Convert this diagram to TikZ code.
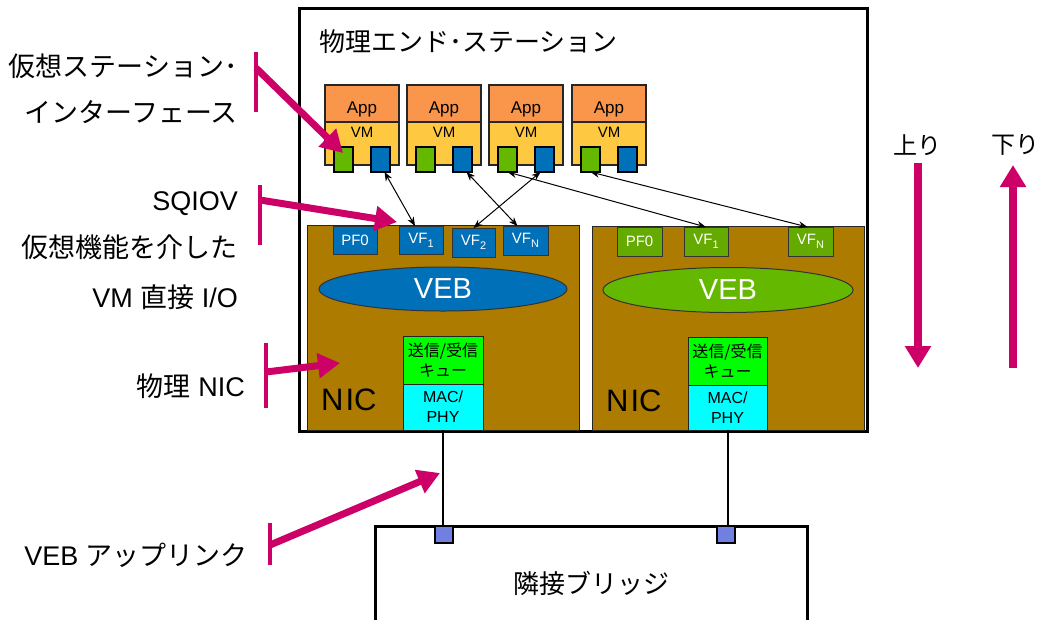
\documentclass[tikz,border=0pt]{standalone}
\usepackage{fontspec}
\setmainfont{Liberation Sans}
\newfontfamily\jp{Noto Sans CJK JP}
\usetikzlibrary{arrows.meta,shapes.geometric}
\definecolor{apporange}{RGB}{250,150,75}
\definecolor{vmyellow}{RGB}{255,200,65}
\definecolor{portgreen}{RGB}{100,185,0}
\definecolor{portblue}{RGB}{0,112,184}
\definecolor{vfgreen}{RGB}{100,170,0}
\definecolor{nicbrown}{RGB}{173,123,0}
\definecolor{qgreen}{RGB}{0,255,0}
\definecolor{maccyan}{RGB}{0,255,255}
\definecolor{callout}{RGB}{204,0,102}
\definecolor{bport}{RGB}{112,128,224}
\begin{document}
\begin{tikzpicture}[x=1pt,y=-1pt,
  box/.style={draw=black!85,line width=0.8pt,inner sep=0pt,outer sep=0pt,anchor=north west},
  vmbox/.style={box,line width=1.2pt},
  portbox/.style={box,line width=1pt,draw=black!80,text=white,font=\fontsize{15}{15}\selectfont},
  lbl/.style={anchor=east,inner sep=0pt,font=\fontsize{27}{27}\selectfont},
  link/.style={line width=1pt,{Stealth[length=9pt,width=7pt]}-{Stealth[length=9pt,width=7pt]}},
  callbar/.style={draw=callout,line width=4pt},
  callarrow/.style={draw=callout,line width=7pt,-{Triangle[length=22pt,width=24pt]}},
  updown/.style={draw=callout,line width=8pt,-{Triangle[length=22pt,width=25pt]}},
  veb/.style={ellipse,draw=black!80,line width=1pt,inner sep=0pt,text=white,font=\fontsize{29}{29}\selectfont},
  queue/.style={box,fill=qgreen,minimum width=80pt,minimum height=48pt,align=center,font=\jp\fontsize{16}{20}\selectfont},
  macbox/.style={box,fill=maccyan,minimum width=80pt,minimum height=46pt,align=center,font=\fontsize{16}{20}\selectfont},
  niclbl/.style={anchor=base west,inner sep=0pt,font=\fontsize{31}{31}\selectfont},
  sub/.style={}
]
\useasboundingbox (0,0) rectangle (1040,619);

% physical end station
\node[box,line width=3pt,draw=black,fill=white,minimum width=568pt,minimum height=423pt] (station) at (299,8) {};
\node[anchor=west,inner sep=0pt,font=\jp\fontsize{26}{26}\selectfont] (stationlabel) at (319,42) {物理エンド･ステーション};

% NICs
\node[box,fill=nicbrown,minimum width=272pt,minimum height=205pt] (nic1) at (307,225) {};
\node[box,fill=nicbrown,minimum width=272pt,minimum height=204pt] (nic2) at (592,226) {};
\node[niclbl] (nic1label) at (321,410) {N\hspace{2pt}IC};
\node[niclbl] (nic2label) at (606,411) {N\hspace{2pt}IC};

% VMs
\foreach \i/\x in {1/325,2/407,3/489,4/572}{
  \node[vmbox,fill=vmyellow,minimum width=74pt,minimum height=43pt] (vm\i) at (\x,122) {};
  \node[vmbox,fill=apporange,minimum width=74pt,minimum height=37pt] (app\i) at (\x,85) {};
  \node[anchor=base,inner sep=0pt,font=\fontsize{17}{17}\selectfont] (apptext\i) at (\x+37,113) {App};
  \node[anchor=base,inner sep=0pt,font=\fontsize{15}{15}\selectfont] (vmtext\i) at (\x+37,137) {VM};
  \node[vmbox,line width=1.5pt,draw=black,fill=portgreen,minimum width=19pt,minimum height=25pt] (g\i) at (\x+9,147) {};
  \node[vmbox,line width=1.5pt,draw=black,fill=portblue,minimum width=19pt,minimum height=25pt] (b\i) at (\x+46,147) {};
}

% NIC1 functions
\node[portbox,fill=portblue,minimum width=44pt,minimum height=28pt] (pf1) at (333,226) {PF0};
\node[portbox,fill=portblue,minimum width=44pt,minimum height=28pt] (vf11) at (399,226) {VF\raisebox{-0.5ex}{\fontsize{11}{11}\selectfont 1}};
\node[portbox,fill=portblue,minimum width=43pt,minimum height=29pt] (vf21) at (452,228) {VF\raisebox{-0.5ex}{\fontsize{11}{11}\selectfont 2}};
\node[portbox,fill=portblue,minimum width=45pt,minimum height=29pt] (vfn1) at (503,226) {VF\raisebox{-0.5ex}{\fontsize{11}{11}\selectfont N}};
% NIC2 functions
\node[portbox,fill=vfgreen,minimum width=45pt,minimum height=29pt] (pf2) at (617,227) {PF0};
\node[portbox,fill=vfgreen,minimum width=44pt,minimum height=29pt] (vf12) at (684,227) {VF\raisebox{-0.5ex}{\fontsize{11}{11}\selectfont 1}};
\node[portbox,fill=vfgreen,minimum width=45pt,minimum height=29pt] (vfn2) at (788,227) {VF\raisebox{-0.5ex}{\fontsize{11}{11}\selectfont N}};

% VEBs
\node[veb,fill=portblue,minimum width=248pt,minimum height=44pt] (veb1) at (443,289) {VEB};
\node[veb,fill=portgreen,minimum width=250pt,minimum height=45pt] (veb2) at (728,290) {VEB};

% queues and MAC/PHY
\node[queue] (q1) at (403,336) {送信/受信\\キュー};
\node[macbox] (mac1) at (403,384) {MAC/\\PHY};
\node[queue,minimum width=79pt] (q2) at (688,337) {送信/受信\\キュー};
\node[macbox,minimum width=79pt,minimum height=45pt] (mac2) at (688,385) {MAC/\\PHY};

% VM <-> VF links
\draw[link] ([xshift=4pt]b1.south) -- ([xshift=-6pt]vf11.north);
\draw[link] ([xshift=4pt]b2.south) -- ([xshift=-8pt]vfn1.north);
\draw[link] (vf21.north) -- ([xshift=-4pt]b3.south);
\draw[link] (g3.south) -- (vf12.north);
\draw[link] (g4.south) -- ([xshift=-3pt]vfn2.north);

% adjacent bridge
\node[box,line width=3pt,draw=black,fill=white,minimum width=432pt,minimum height=100pt] (bridge) at (375,526) {};
\node[font=\jp\fontsize{26}{26}\selectfont] (bridgelabel) at (591,583) {隣接ブリッジ};
\node[box,fill=bport,draw=black,line width=1.5pt,minimum width=18pt,minimum height=17pt] (bp1) at (435,526) {};
\node[box,fill=bport,draw=black,line width=1.5pt,minimum width=18pt,minimum height=17pt] (bp2) at (717,526) {};
\draw[line width=2pt] (mac1.south) -- (mac1.south |- bp1.north);
\draw[line width=2pt] (mac2.south) -- (mac2.south |- bp2.north);

% left labels
\node[lbl] (l1a) at (238,66) {\jp 仮想ステーション･};
\node[lbl] (l1b) at (238,112) {\jp インターフェース};
\node[lbl] (l2a) at (238,204) {SQIOV};
\node[lbl] (l2b) at (238,247) {\jp 仮想機能を介した};
\node[lbl] (l2c) at (238,297) {VM {\jp 直接} I/O};
\node[lbl] (l3) at (245,386) {{\jp 物理} NIC};
\node[lbl] (l4) at (248,555) {VEB {\jp アップリンク}};

% callouts
\coordinate (c1top) at (256,52);  \coordinate (c1bot) at (256,112);
\coordinate (c1s) at (256,68);    \coordinate (c1e) at (343,153);
\coordinate (c2top) at (260,185); \coordinate (c2bot) at (260,245);
\coordinate (c2s) at (260,200);   \coordinate (c2e) at (397,222);
\coordinate (c3top) at (266,343); \coordinate (c3bot) at (266,408);
\coordinate (c3s) at (266,372);   \coordinate (c3e) at (340,363);
\coordinate (c4top) at (270,523); \coordinate (c4bot) at (270,565);
\coordinate (c4s) at (270,545);   \coordinate (c4e) at (440,473);
\draw[callbar] (c1top) -- (c1bot);
\draw[callarrow] (c1s) -- (c1e);
\draw[callbar] (c2top) -- (c2bot);
\draw[callarrow] (c2s) -- (c2e);
\draw[callbar] (c3top) -- (c3bot);
\draw[callarrow] (c3s) -- (c3e);
\draw[callbar] (c4top) -- (c4bot);
\draw[callarrow] (c4s) -- (c4e);

% up / down
\node[font=\jp\fontsize{24}{24}\selectfont] (uplabel) at (917,145) {上り};
\node[font=\jp\fontsize{24}{24}\selectfont] (downlabel) at (1015,145) {下り};
\coordinate (u1) at (918,163); \coordinate (u2) at (918,368);
\coordinate (d1) at (1013,368); \coordinate (d2) at (1013,165);
\draw[updown] (u1) -- (u2);
\draw[updown] (d1) -- (d2);
\end{tikzpicture}
\end{document}
